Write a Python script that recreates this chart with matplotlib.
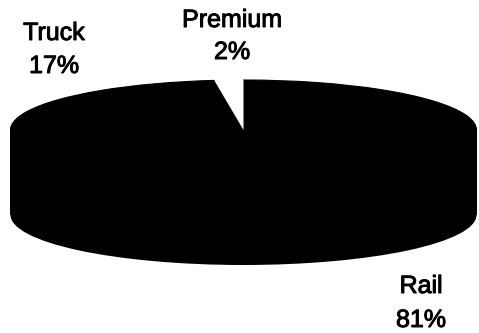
import matplotlib.pyplot as plt
import matplotlib.patheffects as pe
from matplotlib.patches import Ellipse, Rectangle

plt.rcParams["font.family"] = ["Liberation Sans", "DejaVu Sans"]

modes = ["Premium", "Truck", "Rail"]
shares = [2, 17, 81]
colors = ["white", "black", "black"]

# label anchor points in figure pixels (x centre, baseline of name, baseline of %)
label_pos = {
    "Premium": (232, 27, 59),
    "Truck": (54, 40, 73),
    "Rail": (421, 293, 327),
}

W, H = 479, 333
cx, cy = 243.5, 130      # centre of top ellipse, pixels from top-left
a, b = 233.0, 50.0       # semi axes in pixels
depth = 1.7              # side height in units of b

fig = plt.figure(figsize=(W / 100, H / 100), dpi=100)
ax = fig.add_axes([0, 0, 1, 1])

# side of the "3D" disc
ax.add_patch(Rectangle((-1, -depth), 2, depth, facecolor="black", edgecolor="none", zorder=1))
ax.add_patch(Ellipse((0, -depth), 2, 2, facecolor="black", edgecolor="none", zorder=1))

wedges, _ = ax.pie(shares, colors=colors, startangle=90, counterclock=True,
                   radius=1, wedgeprops=dict(linewidth=0))
for w, c in zip(wedges, colors):
    w.set_zorder(3 if c == "white" else 2)
    if c == "black":
        w.set_edgecolor("black")
        w.set_linewidth(0.8)

ax.set_aspect("auto")
ax.set_xlim(-cx / a, (W - cx) / a)
ax.set_ylim(-(H - cy) / b, cy / b)
ax.axis("off")

thick = [pe.withStroke(linewidth=0.7, foreground="black")]
for name, pct in zip(modes, shares):
    x, y1, y2 = label_pos[name]
    fig.text(x / W, 1 - y1 / H, name, ha="center", va="baseline", fontsize=18,
             path_effects=thick)
    fig.text(x / W, 1 - y2 / H, f"{pct}%", ha="center", va="baseline", fontsize=18,
             path_effects=thick)

fig.savefig("out.png", dpi=100, facecolor="white")
